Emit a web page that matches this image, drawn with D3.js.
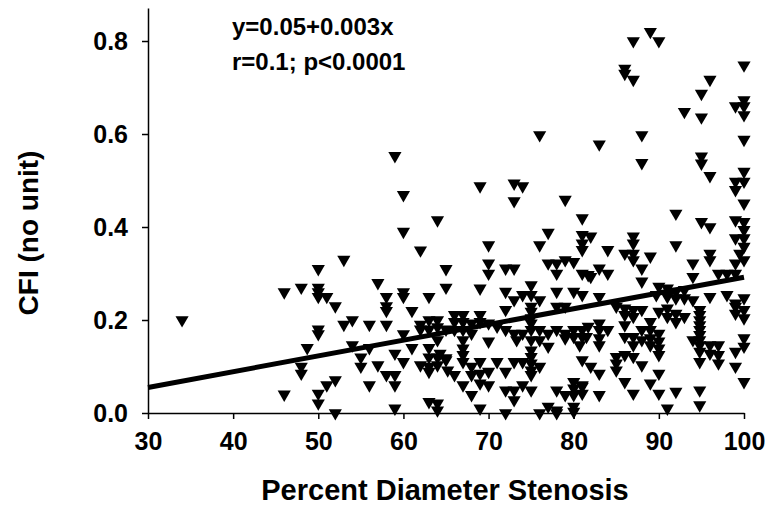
<!DOCTYPE html>
<html><head><meta charset="utf-8">
<script src="https://cdn.jsdelivr.net/npm/d3@7"></script>
<style>
body{margin:0;background:#fff}
svg{display:block}
text{font-family:"Liberation Sans",Arial,Helvetica,sans-serif;font-weight:bold;fill:#000}
</style>
</head><body>
<svg id="chart" width="766" height="510"></svg>
<script>
// Percent diameter stenosis (x) for each lesion
const stenosis = [
 34,46,48,48.7,48,48,46,60,62,53,
 50,65,50,50,50,51,52,57,58,58,
 58,60,60,63,65,61,54,53,56,58,
 50,50,60,62,63,64,62,63,64,65,
 64,54,55,55,56,57,59,60,61,63,
 63,64,62,63,64,65,63,58,59,59,
 56,52,51,50,50,52,59,63,64,64,
 65.2,59,60,64,76,69,73,74,73,79,
 81,77,81,81,81,70,76,70,70,72,
 73,77,78,78,79,80,81,81.7,69,75,
 72,73,74,75,76,78,80,81,72,75,
 75,78,79,66,67,69,66,67,68,69,
 70,71,75,75,66,67,68,72,73,74,
 75,76,77,78,79,80,81,70,73.3,75,
 76,77,79,80,81,81.5,67,67,67,67,
 64.3,65,75,75,75,75,75,76,74,69,
 68,70,69,71,72,73,66,68,67,68,
 69,70,72,73,74,75,73,78,79,80,
 80,80,81,69,72,76,77,78,78,80,
 80,89,87,90,86,86,87,100,96,95,
 100,99,100,100,93,95,88,83,100,88,
 95,95,96,100,99,100,99,100,92,95,
 96,99,100,100,82,87,99,100,87,100,
 99.5,100,99,84,86,87,87,89,92,96,
 96,94,88,94,97,98,99,82,83,84,
 88,83,90,91,92,93,89.7,91,92,93,
 94,96,98,100,99,85,86,87,88,86,
 87,90,91,92,91,93,92,94.8,94.8,94.8,
 94.8,94.8,94.8,94.8,99,99,100,100,80.7,81.7,
 83,83,84,83,83,86,86,87,88,89,
 89,89,90,90,88,87,89,90,90,94,
 94.8,96,97,94.8,96,97,94.8,97,99,100,
 100,99,100,81,82,83,81,81,85,85,
 86,87,88,85,86,87,83,89,90,90,
 91,92,94.8,94.8
];
// CFI (no unit) for each lesion, same order
const cfi = [
 0.20,0.26,0.27,0.14,0.10,0.085,0.04,0.39,0.35,0.33,
 0.31,0.31,0.27,0.26,0.25,0.25,0.23,0.28,0.25,0.23,
 0.22,0.26,0.25,0.25,0.27,0.22,0.20,0.19,0.19,0.19,
 0.18,0.17,0.17,0.19,0.20,0.20,0.18,0.18,0.185,0.18,
 0.157,0.146,0.12,0.10,0.14,0.103,0.128,0.11,0.14,0.14,
 0.12,0.12,0.103,0.10,0.103,0.114,0.089,0.082,0.082,0.06,
 0.06,0.071,0.06,0.042,0.021,0.0,0.01,0.024,0.021,0.006,
 0.092,0.553,0.469,0.415,0.598,0.488,0.494,0.488,0.456,0.459,
 0.419,0.388,0.383,0.365,0.351,0.361,0.361,0.322,0.30,0.311,
 0.311,0.322,0.322,0.30,0.329,0.325,0.30,0.297,0.268,0.275,
 0.261,0.243,0.254,0.254,0.243,0.261,0.261,0.254,0.222,0.229,
 0.218,0.229,0.229,0.211,0.211,0.211,0.196,0.196,0.193,0.196,
 0.193,0.186,0.204,0.193,0.179,0.179,0.171,0.179,0.171,0.171,
 0.179,0.179,0.171,0.179,0.171,0.179,0.179,0.154,0.157,0.157,
 0.157,0.143,0.161,0.164,0.164,0.164,0.157,0.139,0.125,0.11,
 0.128,0.118,0.135,0.121,0.107,0.092,0.082,0.10,0.11,0.11,
 0.10,0.089,0.085,0.11,0.089,0.11,0.082,0.082,0.06,0.039,
 0.064,0.06,0.049,0.049,0.06,0.049,0.028,0.049,0.039,0.067,
 0.053,0.039,0.06,0.01,0.0,0.0,0.014,0.006,0.0,0.014,
 0.003,0.82,0.80,0.80,0.741,0.73,0.717,0.748,0.717,0.687,
 0.673,0.66,0.66,0.641,0.648,0.636,0.598,0.578,0.588,0.538,
 0.552,0.537,0.51,0.519,0.498,0.498,0.48,0.451,0.429,0.411,
 0.40,0.415,0.411,0.394,0.38,0.38,0.376,0.376,0.365,0.358,
 0.343,0.329,0.322,0.351,0.343,0.343,0.329,0.337,0.361,0.343,
 0.329,0.322,0.311,0.293,0.30,0.30,0.30,0.293,0.311,0.30,
 0.283,0.25,0.272,0.268,0.261,0.265,0.254,0.25,0.247,0.247,
 0.243,0.25,0.254,0.247,0.236,0.229,0.225,0.222,0.222,0.211,
 0.207,0.218,0.225,0.214,0.207,0.207,0.196,0.222,0.211,0.20,
 0.189,0.179,0.168,0.157,0.229,0.214,0.222,0.204,0.146,0.186,
 0.193,0.179,0.179,0.161,0.146,0.189,0.164,0.164,0.179,0.196,
 0.179,0.161,0.171,0.154,0.157,0.146,0.146,0.139,0.125,0.157,
 0.146,0.146,0.146,0.132,0.128,0.125,0.11,0.107,0.132,0.143,
 0.161,0.10,0.067,0.114,0.10,0.085,0.057,0.042,0.121,0.107,
 0.125,0.121,0.103,0.092,0.067,0.042,0.039,0.064,0.085,0.042,
 0.01,0.046,0.049,0.017
];
const xTicks = [30,40,50,60,70,80,90,100];
const yTicks = [0.0,0.2,0.4,0.6,0.8];
const fitX = [30,100];
const fitY = [0.055,0.292];
const xTitle = "Percent Diameter Stenosis";
const yTitle = "CFI (no unit)";
const notes = ["y=0.05+0.003x","r=0.1; p<0.0001"];

if (stenosis.length !== cfi.length) console.error("length mismatch", stenosis.length, cfi.length);

const svg = d3.select("#chart");
const x = d3.scaleLinear().domain([30,100]).range([148,744]);
const y = d3.scaleLinear().domain([0,0.871]).range([413,8]);

// axes
const gx = svg.append("g").attr("transform","translate(0,413)")
  .call(d3.axisBottom(x).tickValues(xTicks).tickFormat(d3.format("d"))
        .tickSize(6).tickSizeOuter(0).tickPadding(13));
const gy = svg.append("g").attr("transform","translate(148,0)")
  .call(d3.axisLeft(y).tickValues(yTicks).tickFormat(d3.format(".1f"))
        .tickSize(6).tickSizeOuter(0).tickPadding(14));
[gx,gy].forEach(g=>{
  g.select(".domain").attr("stroke","#000").attr("stroke-width",1.5);
  g.selectAll(".tick line").attr("stroke","#000").attr("stroke-width",1.5);
  g.selectAll(".tick text").style("font-size","25px").style("font-family",null);
});

// points
const sym = d3.symbol().type(d3.symbolTriangle).size(75);
svg.append("g").selectAll("path").data(d3.range(stenosis.length)).join("path")
  .attr("d", sym)
  .attr("transform", i => `translate(${x(stenosis[i])},${y(cfi[i])}) rotate(180)`)
  .attr("fill","#000");

// regression line
svg.append("path")
  .datum(d3.zip(fitX, fitY))
  .attr("d", d3.line().x(d=>x(d[0])).y(d=>y(d[1])))
  .attr("stroke","#000").attr("stroke-width",5).attr("fill","none");

// annotation
svg.append("text").attr("x",232).attr("y",35).style("font-size","24px").text(notes[0]);
svg.append("text").attr("x",232).attr("y",70).style("font-size","24px").text(notes[1]);

// titles
svg.append("text").attr("x",445).attr("y",500).attr("text-anchor","middle")
  .style("font-size","29px").text(xTitle);
svg.append("text").attr("transform","translate(38,233) rotate(-90)").attr("text-anchor","middle")
  .style("font-size","28px").text(yTitle);
</script>
</body></html>
